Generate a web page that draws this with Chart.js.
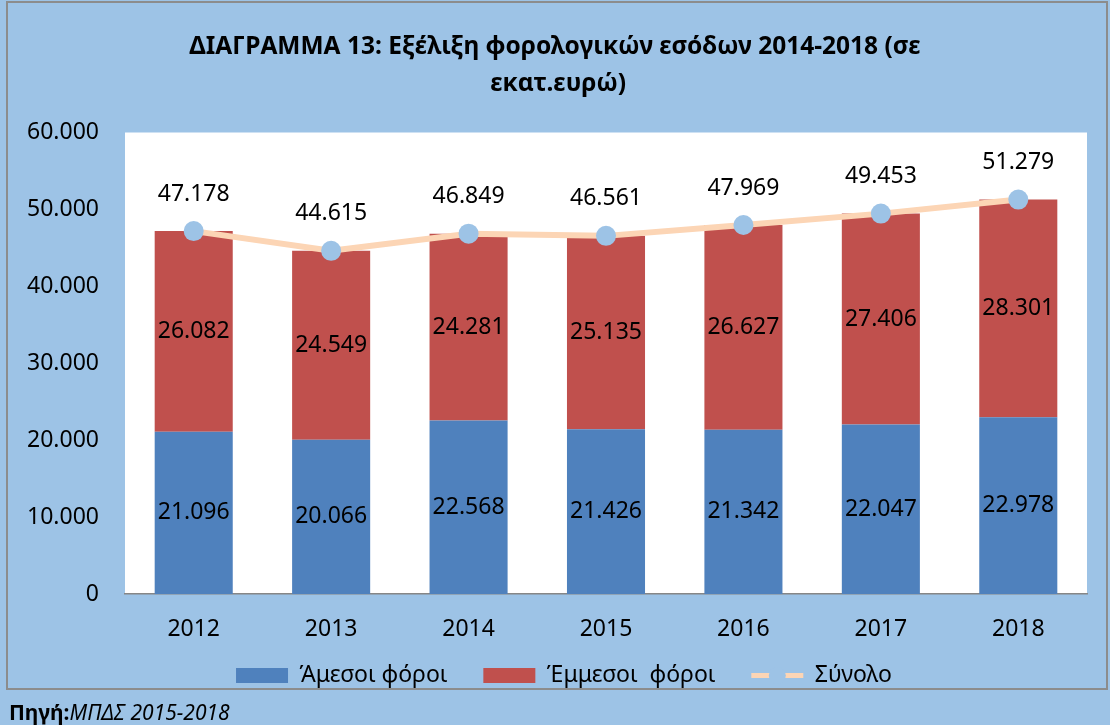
<!DOCTYPE html>
<html>
<head>
<meta charset="utf-8">
<script src="https://cdn.jsdelivr.net/npm/chart.js@4.4.1/dist/chart.umd.min.js"></script>
<style>
  html, body { margin: 0; padding: 0; background: #9dc3e6; }
  #wrap { position: relative; width: 1110px; height: 725px; }
</style>
</head>
<body>
<div id="wrap"><canvas id="chart" width="1110" height="725"></canvas></div>
<script>
// Δεδομένα
const years = ['2012', '2013', '2014', '2015', '2016', '2017', '2018'];
const amesoi = [21096, 20066, 22568, 21426, 21342, 22047, 22978];
const emmesoi = [26082, 24549, 24281, 25135, 26627, 27406, 28301];
const synolo = [47178, 44615, 46849, 46561, 47969, 49453, 51279];
const yTicks = [0, 10000, 20000, 30000, 40000, 50000, 60000];

const FONT = "'Noto Sans', 'Open Sans', sans-serif";
const BG = '#9dc3e6';
const LINE = '#fcd5b5';
const NB = '\u00a0';

function fmt(v) {
    // Ελληνική μορφή χιλιάδων με τελεία
    return String(v).replace(/\B(?=(\d{3})+(?!\d))/g, '.');
}

// Φόντο, πλαίσιο, λευκή περιοχή σχεδίασης και πηγή
const backgroundPlugin = {
    id: 'bg',
    afterLayout(chart) {
        // μετατόπιση τίτλου και υπομνήματος ώστε να κεντράρονται όπως στο πρωτότυπο
        chart.titleBlock.left += 22;
        chart.legend.left += 40;
    },
    beforeDraw(chart) {
        const { ctx, chartArea: a } = chart;
        ctx.save();
        ctx.fillStyle = BG;
        ctx.fillRect(0, 0, chart.width, chart.height);
        ctx.strokeStyle = '#8c8c8c';
        ctx.lineWidth = 2;
        ctx.strokeRect(7, 2, chart.width - 10, 687);
        ctx.fillStyle = '#ffffff';
        ctx.fillRect(a.left, a.top, a.right - a.left, a.bottom - a.top);
        ctx.restore();
    },
    afterDraw(chart) {
        const ctx = chart.ctx;
        ctx.save();
        // κενό στη μέση της γραμμής του υπομνήματος (δείκτης στο χρώμα του φόντου)
        const legend = chart.legend;
        const idx = legend.legendItems.findIndex(it => it.text.trim() === 'Σύνολο');
        if (idx >= 0) {
            const hb = legend.legendHitBoxes[idx];
            const cx = hb.left + 26;
            const cy = hb.top + hb.height / 2;
            ctx.fillStyle = BG;
            ctx.beginPath();
            ctx.arc(cx, cy, 8.5, 0, Math.PI * 2);
            ctx.fill();
        }
        ctx.fillStyle = '#000';
        ctx.textBaseline = 'alphabetic';
        ctx.font = `bold 21px ${FONT}`;
        ctx.fillText('Πηγή:', 9, 720);
        const w = ctx.measureText('Πηγή:').width;
        ctx.font = `italic 21px ${FONT}`;
        ctx.fillText('ΜΠΔΣ 2015-2018', 9 + w, 720);
        ctx.restore();
    }
};

// Ετικέτες τιμών
const labelsPlugin = {
    id: 'valueLabels',
    afterDatasetsDraw(chart) {
        const ctx = chart.ctx;
        ctx.save();
        ctx.fillStyle = '#000';
        ctx.textAlign = 'center';
        ctx.textBaseline = 'middle';
        ctx.font = `23px ${FONT}`;
        chart.data.datasets.forEach((ds, i) => {
            const meta = chart.getDatasetMeta(i);
            meta.data.forEach((el, j) => {
                const v = ds.data[j];
                if (ds.type === 'line') {
                    ctx.fillText(fmt(v), el.x, el.y - 37);
                } else {
                    ctx.fillText(fmt(v), el.x, (el.y + el.base) / 2);
                }
            });
        });
        ctx.restore();
    }
};

new Chart(document.getElementById('chart'), {
    data: {
        labels: years,
        datasets: [
            {
                type: 'bar',
                label: 'Άμεσοι φόροι',
                data: amesoi,
                stack: 'taxes',
                order: 1,
                backgroundColor: '#4f81bd',
                categoryPercentage: 0.568,
                barPercentage: 1
            },
            {
                type: 'bar',
                label: 'Έμμεσοι  φόροι',
                data: emmesoi,
                stack: 'taxes',
                order: 1,
                backgroundColor: '#c0504d',
                categoryPercentage: 0.568,
                barPercentage: 1
            },
            {
                type: 'line',
                label: 'Σύνολο',
                data: synolo,
                stack: 'total',
                order: 0,
                borderColor: LINE,
                backgroundColor: LINE,
                borderWidth: 6,
                pointRadius: 10,
                pointHoverRadius: 10,
                pointBackgroundColor: BG,
                pointBorderColor: BG,
                pointBorderWidth: 0,
                tension: 0
            }
        ]
    },
    options: {
        responsive: false,
        animation: false,
        layout: { padding: { left: 1, right: 23, top: 8, bottom: 28 } },
        plugins: {
            title: {
                display: true,
                text: ['ΔΙΑΓΡΑΜΜΑ 13: Εξέλιξη φορολογικών εσόδων 2014-2018 (σε', NB + 'εκατ.ευρώ)'],
                color: '#000',
                font: { family: FONT, size: 24.5, weight: 'bold', lineHeight: 1.5 },
                padding: { top: 21, bottom: 30 }
            },
            legend: {
                position: 'bottom',
                labels: {
                    color: '#000',
                    font: { family: FONT, size: 23 },
                    usePointStyle: true,
                    pointStyleWidth: 52,
                    boxHeight: 15,
                    padding: 0,
                    generateLabels(chart) {
                        const n = chart.data.datasets.length;
                        return chart.data.datasets.map((ds, i) => {
                            const isLine = ds.type === 'line';
                            return {
                                text: i < n - 1 ? ds.label + NB.repeat(6) : ds.label,
                                datasetIndex: i,
                                fillStyle: isLine ? LINE : ds.backgroundColor,
                                strokeStyle: isLine ? LINE : ds.backgroundColor,
                                lineWidth: isLine ? 5 : 0,
                                pointStyle: isLine ? 'line' : 'rect',
                                fontColor: '#000',
                                hidden: false
                            };
                        });
                    }
                }
            },
            tooltip: { enabled: false }
        },
        scales: {
            x: {
                stacked: true,
                grid: { display: false, drawTicks: false },
                border: { display: true, color: '#868686', width: 1.5 },
                ticks: { color: '#000', font: { family: FONT, size: 23, lineHeight: 1 }, padding: 23.5 }
            },
            y: {
                stacked: true,
                min: 0,
                max: 60000,
                afterBuildTicks(scale) {
                    scale.ticks = yTicks.map(v => ({ value: v }));
                },
                afterFit(scale) {
                    scale.width = 124;
                },
                grid: { display: false, drawTicks: false },
                border: { display: false },
                ticks: {
                    color: '#000',
                    font: { family: FONT, size: 23 },
                    padding: 26,
                    callback: v => fmt(v)
                }
            }
        }
    },
    plugins: [backgroundPlugin, labelsPlugin]
});
</script>
</body>
</html>
